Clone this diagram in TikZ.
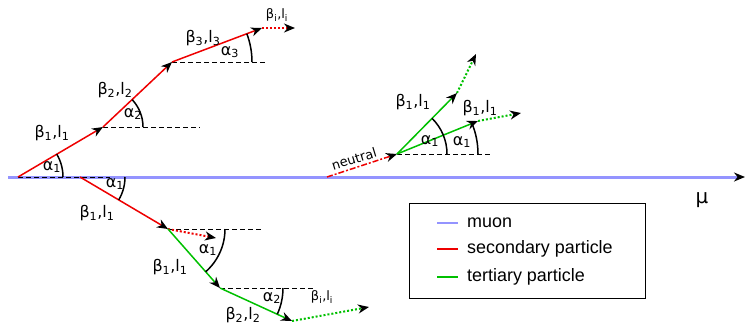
\documentclass[tikz,border=0pt]{standalone}
\usepackage{fontspec}
\setmainfont{DejaVu Sans}
\newfontfamily\legfont{Liberation Sans}
\usetikzlibrary{arrows.meta}
\definecolor{muonblue}{HTML}{9494FF}
\definecolor{secred}{HTML}{EE0000}
\definecolor{tergreen}{HTML}{00C000}
\begin{document}
\begin{tikzpicture}[x=1bp,y=-1bp,
  >={Stealth[black,length=11bp,width=9bp,inset=3.5bp]},
  track/.style={line width=1.5bp,->},
  sec/.style={track,secred},
  ter/.style={track,tergreen},
  dotsec/.style={secred,line width=2bp,dash pattern=on 2bp off 2bp,->},
  dotter/.style={tergreen,line width=2bp,dash pattern=on 2bp off 2bp,->},
  refline/.style={black,line width=1bp,dash pattern=on 5bp off 3bp},
  ang/.style={black,line width=1.5bp},
  lab/.style={font=\fontsize{16}{18}\selectfont,inner sep=0pt},
  smalllab/.style={font=\fontsize{13}{15}\selectfont,inner sep=0pt},
  legtext/.style={font=\legfont\fontsize{18}{20}\selectfont,inner sep=0pt,anchor=west}]
\useasboundingbox (0,0) rectangle (745,328);

% coordinates
\coordinate (M0) at (8,177);
\coordinate (M1) at (745,177);
\coordinate (O) at (18,177);
\coordinate (P1) at (103,127);
\coordinate (P2) at (172,62);
\coordinate (P3) at (262,28);
\coordinate (P4) at (295,28);
\coordinate (Od) at (110,177);
\coordinate (P1d) at (200,127);
\coordinate (P2d) at (267,62);
\coordinate (S) at (80,177);
\coordinate (Q1) at (168,229);
\coordinate (Q1d) at (263,229);
\coordinate (Q1r) at (216,238);
\coordinate (Q2) at (220,288);
\coordinate (Q2d) at (313,288);
\coordinate (Q3) at (292,321);
\coordinate (Q4) at (369,307);
\coordinate (Nst) at (327,177);
\coordinate (N) at (397,154);
\coordinate (Nd) at (492,154);
\coordinate (G1) at (457,93);
\coordinate (G1e) at (476,54);
\coordinate (G2) at (478,121);
\coordinate (G2e) at (521,113);

% muon
\draw[muonblue,line width=3bp,->] (M0) -- (M1);

% reference dashed lines
\draw[refline] (O) -- (Od);
\draw[refline] (P1) -- (P1d);
\draw[refline] (P2) -- (P2d);
\draw[refline] (Q1) -- (Q1d);
\draw[refline] (Q2) -- (Q2d);
\draw[refline] (N) -- (Nd);

% upper secondary chain
\draw[sec] (O) -- (P1);
\draw[sec] (P1) -- (P2);
\draw[sec] (P2) -- (P3);
\draw[dotsec] (P3) -- (P4);

% lower chain
\draw[sec] (S) -- (Q1);
\draw[dotsec] (Q1) -- (Q1r);
\draw[ter] (Q1) -- (Q2);
\draw[ter] (Q2) -- (Q3);
\draw[dotter] (Q3) -- (Q4);

% neutral
\draw[secred,line width=1.5bp,dash pattern=on 6bp off 2bp on 2bp off 2bp,->] (Nst) -- (N);
\draw[ter] (N) -- (G1);
\draw[dotter] (G1) -- (G1e);
\draw[ter] (N) -- (G2);
\draw[dotter] (G2) -- (G2e);

% angle arcs
\draw[ang] (O) ++(45,0) arc[start angle=0,end angle=-30.5,radius=45];
\draw[ang] (P1) ++(40,0) arc[start angle=0,end angle=-43,radius=40];
\draw[ang] (P2) ++(80,0) arc[start angle=0,end angle=-20.7,radius=80];
\draw[ang] (S) ++(45,0) arc[start angle=0,end angle=30.6,radius=45];
\draw[ang] (Q1) ++(57,0) arc[start angle=0,end angle=48.6,radius=57];
\draw[ang] (Q2) ++(63,0) arc[start angle=0,end angle=24.6,radius=63];
\draw[ang] (N) ++(50,0) arc[start angle=0,end angle=-45.5,radius=50];
\draw[ang] (N) ++(81,0) arc[start angle=0,end angle=-22.2,radius=81];

% labels
\node[lab] (a1) at (52,167) {α\textsubscript{1}};
\node[lab] (b1) at (52,133) {β\textsubscript{1},l\textsubscript{1}};
\node[lab] (a2) at (133,114) {α\textsubscript{2}};
\node[lab] (b2) at (115,90) {β\textsubscript{2},l\textsubscript{2}};
\node[lab] (a3) at (230,52) {α\textsubscript{3}};
\node[lab] (b3) at (203,38) {β\textsubscript{3},l\textsubscript{3}};
\node[smalllab] (bi) at (277,15) {β\textsubscript{i},l\textsubscript{i}};

\node[lab] (a1b) at (115,184) {α\textsubscript{1}};
\node[lab] (b1b) at (97,213) {β\textsubscript{1},l\textsubscript{1}};
\node[lab] (a1c) at (208,250) {α\textsubscript{1}};
\node[lab] (b1c) at (170,267) {β\textsubscript{1},l\textsubscript{1}};
\node[lab] (a2c) at (272,298) {α\textsubscript{2}};
\node[smalllab] (bic) at (322,297) {β\textsubscript{i},l\textsubscript{i}};
\node[lab] (b2c) at (243,315) {β\textsubscript{2},l\textsubscript{2}};

\node[lab] (a1n) at (430,141) {α\textsubscript{1}};
\node[lab] (a1m) at (462,142) {α\textsubscript{1}};
\node[lab] (b1n) at (413,102) {β\textsubscript{1},l\textsubscript{1}};
\node[lab] (b1m) at (480,108) {β\textsubscript{1},l\textsubscript{1}};
\node[font=\fontsize{13}{15}\selectfont,inner sep=0pt,rotate=17] (neu) at (354,159) {neutral};

\node[font=\fontsize{20}{22}\selectfont,inner sep=0pt] (mu) at (702,200) {μ};

% legend
\draw[black,line width=1bp] (409,203) rectangle (645,298);
\draw[muonblue,line width=2.5bp] (437,223) -- (458,223);
\draw[secred,line width=1.5bp] (437,249) -- (458,249);
\draw[tergreen,line width=1.5bp] (437,277) -- (458,277);
\node[legtext] (l1) at (467,223) {muon};
\node[legtext] (l2) at (467,249) {secondary particle};
\node[legtext] (l3) at (467,277) {tertiary particle};
\end{tikzpicture}
\end{document}
